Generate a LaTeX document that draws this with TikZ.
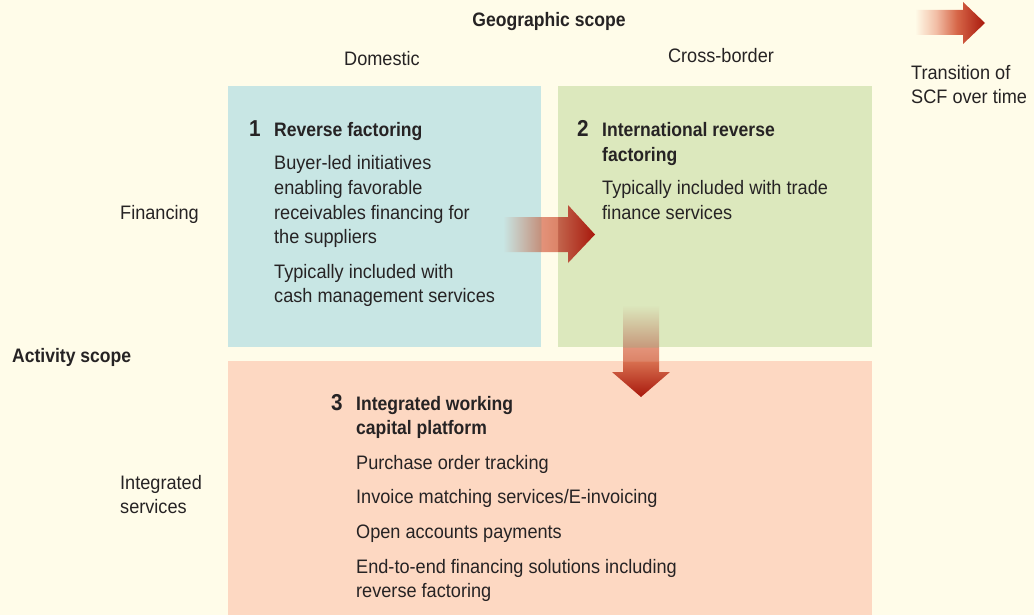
\documentclass[tikz,border=0pt]{standalone}
\usepackage{fontspec}
\setmainfont{Liberation Sans}[FakeStretch=0.93, BoldFeatures={FakeStretch=0.90}]

\definecolor{bg}{HTML}{FFFCE9}
\definecolor{ink}{HTML}{262324}
\definecolor{boxblue}{HTML}{C8E6E4}
\definecolor{boxgreen}{HTML}{DCE8BD}
\definecolor{boxsalmon}{HTML}{FDD8C2}
% arrow tones: the arrows look see-through, so each stretch is tinted by what lies below
\definecolor{arrowtip}{HTML}{A8180C}
\definecolor{onblue}{HTML}{C4907C}
\definecolor{gapin}{HTML}{E3937A}
\definecolor{gapout}{HTML}{DC8468}
\definecolor{ongreen}{HTML}{C2644C}
\definecolor{ongreenv}{HTML}{C79A7C}
\definecolor{onsalmon}{HTML}{D87050}
\definecolor{legpale}{HTML}{F2BEA6}
\definecolor{legmid}{HTML}{D66648}

% TikZ maps a path's bounding box onto 25bp..75bp of a shading
\pgfdeclarehorizontalshading{legendshade}{100bp}{%
  color(0bp)=(bg); color(25bp)=(bg); color(40bp)=(legpale);
  color(55bp)=(legmid); color(75bp)=(arrowtip); color(100bp)=(arrowtip)}
\pgfdeclarehorizontalshading{rightshade}{100bp}{%
  color(0bp)=(boxblue); color(25bp)=(boxblue); color(45.6bp)=(onblue);
  color(45.7bp)=(gapin); color(54.8bp)=(gapout); color(54.9bp)=(ongreen);
  color(75bp)=(arrowtip); color(100bp)=(arrowtip)}
\pgfdeclareverticalshading{downshade}{100bp}{%
  color(0bp)=(arrowtip); color(25bp)=(arrowtip); color(44.5bp)=(onsalmon);
  color(44.6bp)=(gapout); color(52.1bp)=(gapin); color(52.2bp)=(ongreenv);
  color(75bp)=(boxgreen); color(100bp)=(boxgreen)}

\tikzset{
  txt/.style={anchor=base west, inner sep=0pt, text=ink, font=\fontsize{19.5}{24}\selectfont},
  hdr/.style={txt, font=\fontsize{19.5}{24}\selectfont\bfseries},
  num/.style={txt, font=\fontsize{23}{24}\selectfont\bfseries},
  ctr/.style={anchor=base},
}

\begin{document}
\begin{tikzpicture}[x=1pt, y=-1pt]
  % page
  \fill[bg] (0,0) rectangle (1034,615);

  % quadrants
  \fill[boxblue]   (228,86)  rectangle (541,347);
  \fill[boxgreen]  (558,86)  rectangle (872,347);
  \fill[boxsalmon] (228,361) rectangle (872,615);

  % axis headings
  \node[hdr, ctr] (geo) at (549,27) {Geographic scope};
  \node[txt, ctr] (dom) at (382,66) {Domestic};
  \node[txt, ctr] (cross) at (721,63) {Cross-border};
  \node[hdr] (act) at (12,362) {Activity scope};
  \node[txt] (fin) at (120,219) {Financing};
  \node[txt] (int1) at (120,489) {Integrated};
  \node[txt] (int2) at (120,513) {services};

  % legend
  \shade[shading=legendshade] (915,10) -- (963,10) -- (963,2) -- (985,23) -- (963,44) -- (963,35) -- (915,35) -- cycle;
  \node[txt] (leg1) at (911,80) {Transition of};
  \node[txt] (leg2) at (911,104) {SCF over time};

  % quadrant 1
  \node[num] (n1) at (249,137) {1};
  \node[hdr] (t1) at (274,137) {Reverse factoring};
  \node[txt] (a1) at (274,170) {Buyer-led initiatives};
  \node[txt] (a2) at (274,195) {enabling favorable};
  \node[txt] (a3) at (274,219) {receivables financing for};
  \node[txt] (a4) at (274,243) {the suppliers};
  \node[txt] (a5) at (274,278) {Typically included with};
  \node[txt] (a6) at (274,302) {cash management services};

  % quadrant 2
  \node[num] (n2) at (577,137) {2};
  \node[hdr] (t2a) at (602,137) {International reverse};
  \node[hdr] (t2b) at (602,161) {factoring};
  \node[txt] (b1) at (602,195) {Typically included with trade};
  \node[txt] (b2) at (602,219) {finance services};

  % quadrant 3
  \node[num] (n3) at (331,410) {3};
  \node[hdr] (t3a) at (356,410) {Integrated working};
  \node[hdr] (t3b) at (356,434) {capital platform};
  \node[txt] (c1) at (356,469) {Purchase order tracking};
  \node[txt] (c2) at (356,503) {Invoice matching services/E-invoicing};
  \node[txt] (c3) at (356,538) {Open accounts payments};
  \node[txt] (c4) at (356,573) {End-to-end financing solutions including};
  \node[txt] (c5) at (356,597) {reverse factoring};

  % transition arrows
  \shade[shading=rightshade] (503,217) -- (568,217) -- (568,205) -- (595,234.5) -- (568,263) -- (568,252) -- (503,252) -- cycle;
  \shade[shading=downshade] (623,305) -- (659,305) -- (659,372) -- (670,372) -- (641,397) -- (612,372) -- (623,372) -- cycle;
\end{tikzpicture}
\end{document}
